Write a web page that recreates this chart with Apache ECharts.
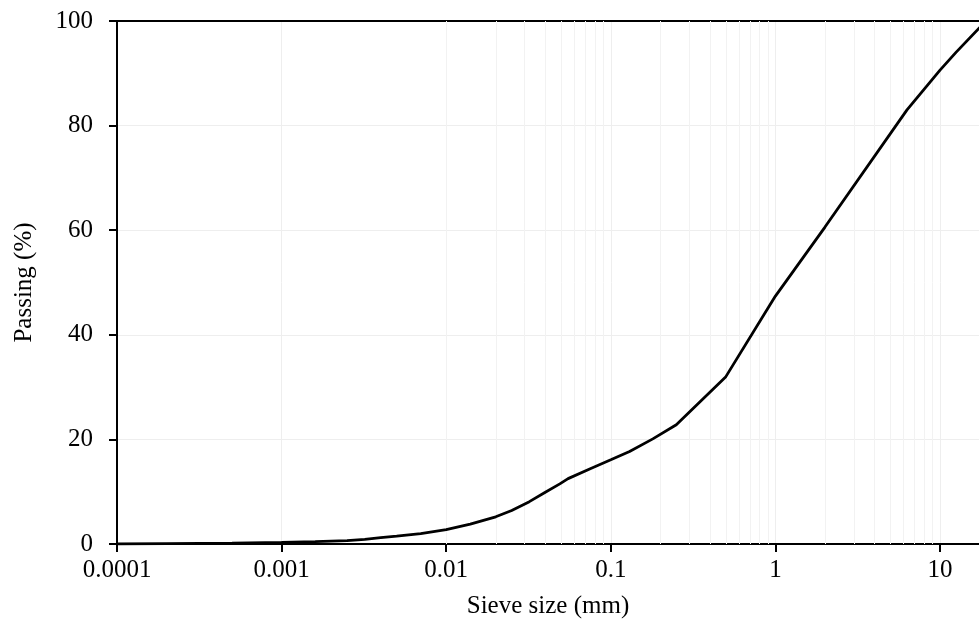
<!DOCTYPE html>
<html>
    <head>
        <meta charset="utf-8">
        <title>grading curve</title>
        <script src="https://cdn.jsdelivr.net/npm/echarts@6/dist/echarts.min.js"></script>
    </head>
    <body style="margin:0">
        <style>
            html, body, #main {
                width: 979px;
                height: 627px;
                background: #fff;
            }
        </style>
        <div id="main"></div>
        <script>
            // sieve size (mm) and percent passing
            var sieveSize = [0.0001, 0.0002, 0.0005, 0.001, 0.0016, 0.0025, 0.0032, 0.004, 0.005, 0.007,
                0.01, 0.014, 0.02, 0.025, 0.032, 0.04, 0.049, 0.055, 0.075, 0.1, 0.13, 0.18, 0.25,
                0.5, 1, 2, 6.3, 10, 12.5, 19];
            var passing = [0, 0.06, 0.15, 0.3, 0.45, 0.65, 0.9, 1.2, 1.5, 2.0,
                2.75, 3.8, 5.2, 6.4, 8.1, 9.9, 11.5, 12.5, 14.4, 16.1, 17.7, 20.1, 22.8,
                32.0, 47.4, 60.6, 83.0, 90.6, 94.0, 100];

            var yTicks = [0, 20, 40, 60, 80, 100];
            var decades = [0.0001, 0.001, 0.01, 0.1, 1, 10];
            var minorSteps = [2, 3, 4, 5, 6, 7, 8, 9];

            var font = 'Liberation Serif';
            var minorLines = [];
            decades.forEach(function (d) {
                minorSteps.forEach(function (m) {
                    var v = d * m;
                    if (v < 17.25) minorLines.push({ xAxis: v });
                });
            });

            var chart = echarts.init(document.getElementById('main'));

            chart.setOption({
                animation: false,
                grid: { left: 117, top: 21, right: 0, bottom: 83 },
                xAxis: [{
                    type: 'log',
                    logBase: 10,
                    min: 0.0001,
                    max: 17.25,
                    name: 'Sieve size (mm)',
                    nameLocation: 'middle',
                    nameGap: 50,
                    nameTextStyle: { fontFamily: font, fontSize: 25, color: '#000' },
                    axisLine: { lineStyle: { color: '#000', width: 2 } },
                    axisTick: { length: 8, lineStyle: { color: '#000', width: 2 } },
                    axisLabel: {
                        fontFamily: font, fontSize: 25, color: '#000', margin: 14,
                        showMaxLabel: false,
                        formatter: function (v) { return String(parseFloat(v.toPrecision(6))); }
                    },
                    splitLine: { show: true, lineStyle: { color: '#eeeeee', width: 1 } }
                }, {
                    type: 'log',
                    logBase: 10,
                    position: 'top',
                    min: 0.0001,
                    max: 17.25,
                    axisLine: { lineStyle: { color: '#000', width: 2 } },
                    axisTick: { show: false },
                    axisLabel: { show: false },
                    splitLine: { show: false }
                }],
                yAxis: {
                    type: 'value',
                    min: yTicks[0],
                    max: yTicks[yTicks.length - 1],
                    interval: 20,
                    name: 'Passing (%)',
                    nameLocation: 'middle',
                    nameGap: 80,
                    nameTextStyle: { fontFamily: font, fontSize: 25, color: '#000' },
                    axisLine: { show: true, lineStyle: { color: '#000', width: 2 } },
                    axisTick: { show: true, length: 8, lineStyle: { color: '#000', width: 2 } },
                    axisLabel: { fontFamily: font, fontSize: 25, color: '#000', margin: 24 },
                    splitLine: { show: true, lineStyle: { color: '#eeeeee', width: 1 } }
                },
                series: [{
                    type: 'line',
                    z: 1,
                    data: [],
                    markLine: {
                        z: 1,
                        silent: true,
                        symbol: ['none', 'none'],
                        label: { show: false },
                        lineStyle: { color: '#f2f2f2', type: 'solid', width: 1 },
                        data: minorLines
                    }
                }, {
                    type: 'line',
                    z: 5,
                    showSymbol: false,
                    smooth: false,
                    data: sieveSize.map(function (s, i) { return [s, passing[i]]; }),
                    lineStyle: { color: '#000', width: 2.8 }
                }]
            });
        </script>
    </body>
</html>
